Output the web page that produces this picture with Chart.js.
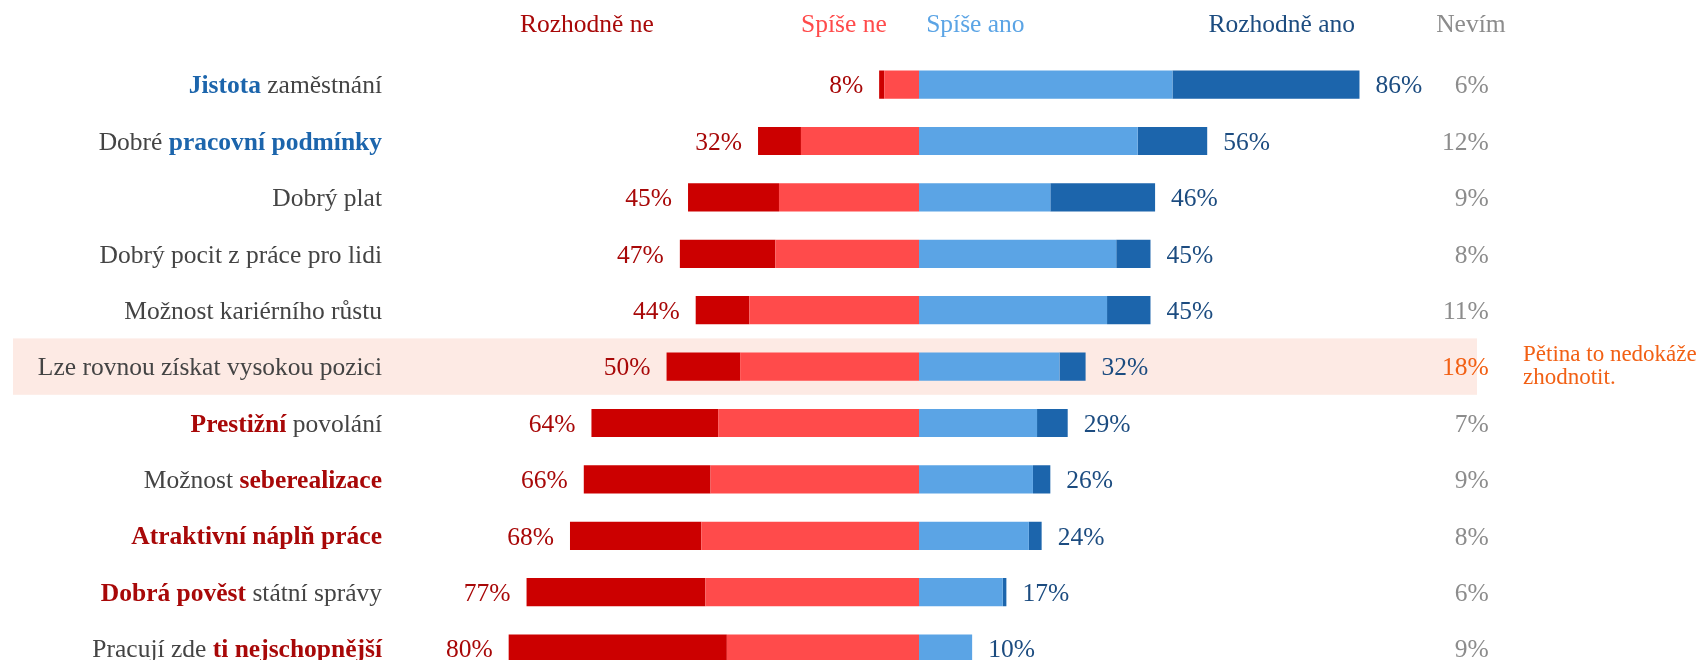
<!DOCTYPE html>
<html lang="cs">
<head>
<meta charset="utf-8">
<script src="https://cdn.jsdelivr.net/npm/chart.js@4/dist/chart.umd.min.js"></script>
<style>
  html, body { margin: 0; padding: 0; background: #fff; overflow: hidden; }
  #wrap { width: 1700px; height: 660px; overflow: hidden; }
</style>
</head>
<body>
<div id="wrap"><canvas id="chart" width="1700" height="690"></canvas></div>
<script>
// Kategorie a zvýrazněná slova
const categories = [
  'Jistota zaměstnání',
  'Dobré pracovní podmínky',
  'Dobrý plat',
  'Dobrý pocit z práce pro lidi',
  'Možnost kariérního růstu',
  'Lze rovnou získat vysokou pozici',
  'Prestižní povolání',
  'Možnost seberealizace',
  'Atraktivní náplň práce',
  'Dobrá pověst státní správy',
  'Pracují zde ti nejschopnější'
];
const emphasis = ['Jistota', 'pracovní podmínky', '', '', '', '', 'Prestižní', 'seberealizace', 'Atraktivní náplň práce', 'Dobrá pověst', 'ti nejschopnější'];
const emphasisTone = ['ano', 'ano', '', '', '', '', 'ne', 'ne', 'ne', 'ne', 'ne'];

// Hodnoty v procentech
const rozhodneNe  = [1.0, 8.4, 17.8, 18.7, 10.5, 14.4, 24.8, 24.8, 25.7, 35.0, 42.7];
const spiseNe     = [6.8, 23.1, 27.4, 28.1, 33.2, 35.0, 39.3, 40.8, 42.6, 41.8, 37.6];
const spiseAno    = [49.6, 42.8, 25.7, 38.6, 36.8, 27.5, 23.1, 22.3, 21.5, 16.4, 10.4];
const rozhodneAno = [36.6, 13.6, 20.5, 6.7, 8.5, 5.1, 6.0, 3.4, 2.5, 0.7, 0];
const totalNe  = [8, 32, 45, 47, 44, 50, 64, 66, 68, 77, 80];
const totalAno = [86, 56, 46, 45, 45, 32, 29, 26, 24, 17, 10];
const nevim    = [6, 12, 9, 8, 11, 18, 7, 9, 8, 6, 9];
const highlightRow = 5;

const FONT = '"Liberation Serif", "DejaVu Serif", serif';
const SIZE = 25.5;
const colors = {
  darkRed: 'rgb(204, 0, 0)',
  lightRed: 'rgb(255, 75, 75)',
  lightBlue: 'rgb(91, 164, 229)',
  darkBlue: 'rgb(28, 101, 172)',
  redText: 'rgb(168, 8, 8)',
  blueText: 'rgb(28, 76, 128)',
  grey: 'rgb(140, 140, 140)',
  label: 'rgb(68, 68, 68)',
  orange: 'rgb(242, 96, 20)',
  band: 'rgb(253, 234, 228)'
};

// Zvýrazněný řádek
const bandPlugin = {
  id: 'band',
  beforeDatasetsDraw(chart) {
    const ctx = chart.ctx, x = chart.scales.x, y = chart.scales.y;
    const yc = y.getPixelForValue(highlightRow);
    const half = (y.getPixelForValue(1) - y.getPixelForValue(0)) / 2;
    ctx.save();
    ctx.fillStyle = colors.band;
    ctx.fillRect(13, yc - half, x.getPixelForValue(109.2) - 13, half * 2);
    ctx.restore();
  }
};

// Popisky, hodnoty a záhlaví
const textPlugin = {
  id: 'texts',
  afterDatasetsDraw(chart) {
    const ctx = chart.ctx, x = chart.scales.x, y = chart.scales.y;
    ctx.save();
    ctx.textBaseline = 'middle';
    ctx.font = SIZE + 'px ' + FONT;

    // záhlaví
    const headY = 25;
    const head = [
      ['Rozhodně ne', -65, 'center', colors.redText],
      ['Spíše ne', -6.3, 'right', colors.lightRed],
      ['Spíše ano', 1.4, 'left', colors.lightBlue],
      ['Rozhodně ano', 71, 'center', colors.blueText],
      ['Nevím', 108, 'center', colors.grey]
    ];
    head.forEach(([t, v, align, c]) => {
      ctx.textAlign = align;
      ctx.fillStyle = c;
      ctx.fillText(t, x.getPixelForValue(v), headY);
    });

    categories.forEach((cat, i) => {
      const yc = y.getPixelForValue(i) + 2;
      // kategorie s tučnou částí
      const labelRight = 382;
      const em = emphasis[i];
      let parts = [[cat, false]];
      if (em) {
        const k = cat.indexOf(em);
        parts = [[cat.slice(0, k), false], [em, true], [cat.slice(k + em.length), false]].filter(p => p[0]);
      }
      const fontFor = b => (b ? 'bold ' : '') + SIZE + 'px ' + FONT;
      let w = 0;
      parts.forEach(p => { ctx.font = fontFor(p[1]); w += ctx.measureText(p[0]).width; });
      let cx = labelRight - w;
      ctx.textAlign = 'left';
      parts.forEach(p => {
        ctx.font = fontFor(p[1]);
        ctx.fillStyle = p[1] ? (emphasisTone[i] === 'ano' ? colors.darkBlue : colors.redText) : colors.label;
        ctx.fillText(p[0], cx, yc);
        cx += ctx.measureText(p[0]).width;
      });

      ctx.font = SIZE + 'px ' + FONT;
      // záporná strana
      const leftEnd = x.getPixelForValue(-(rozhodneNe[i] + spiseNe[i]));
      ctx.textAlign = 'right';
      ctx.fillStyle = colors.redText;
      ctx.fillText(totalNe[i] + '%', leftEnd - 16, yc);
      // kladná strana
      const rightEnd = x.getPixelForValue(spiseAno[i] + rozhodneAno[i]);
      ctx.textAlign = 'left';
      ctx.fillStyle = colors.blueText;
      ctx.fillText(totalAno[i] + '%', rightEnd + 16, yc);
      // nevím
      ctx.textAlign = 'right';
      ctx.fillStyle = i === highlightRow ? colors.orange : colors.grey;
      ctx.fillText(nevim[i] + '%', x.getPixelForValue(111.5), yc);
    });

    // poznámka
    const yh = y.getPixelForValue(highlightRow);
    ctx.font = '23px ' + FONT;
    ctx.textAlign = 'left';
    ctx.fillStyle = colors.orange;
    ctx.fillText('Pětina to nedokáže', 1523, yh - 12);
    ctx.fillText('zhodnotit.', 1523, yh + 11);
    ctx.restore();
  }
};

const ctx = document.getElementById('chart').getContext('2d');
new Chart(ctx, {
  type: 'bar',
  data: {
    labels: categories,
    datasets: [
      { label: 'Spíše ne', data: spiseNe.map(v => -v), backgroundColor: colors.lightRed },
      { label: 'Rozhodně ne', data: rozhodneNe.map(v => -v), backgroundColor: colors.darkRed },
      { label: 'Spíše ano', data: spiseAno, backgroundColor: colors.lightBlue },
      { label: 'Rozhodně ano', data: rozhodneAno, backgroundColor: colors.darkBlue }
    ]
  },
  options: {
    indexAxis: 'y',
    responsive: false,
    animation: false,
    layout: { padding: { left: 408, right: 270, top: 56.4, bottom: 13.2 } },
    datasets: { bar: { categoryPercentage: 1, barPercentage: 0.5, borderWidth: 0 } },
    scales: {
      x: { stacked: true, min: -100, max: 100, display: false },
      y: { stacked: true, display: false }
    },
    plugins: {
      legend: { display: false },
      tooltip: { enabled: false }
    }
  },
  plugins: [bandPlugin, textPlugin]
});
</script>
</body>
</html>
